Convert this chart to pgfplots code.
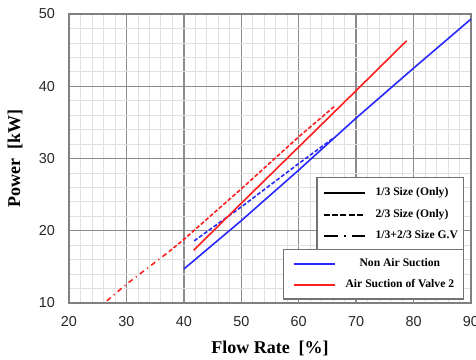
\documentclass[border=0pt]{standalone}
\usepackage{fontspec}
\setmainfont{Liberation Serif}
\setsansfont{Liberation Sans}
\usepackage{pgfplots}
\pgfplotsset{compat=1.18}
\definecolor{myblue}{RGB}{40,40,255}
\definecolor{myred}{RGB}{255,30,30}
\begin{document}
\begin{tikzpicture}
\pgfplotsset{
  common/.style={scale only axis, width=201pt, height=144.5pt,
    xmin=20,xmax=90,ymin=10,ymax=50},
}
\begin{axis}[common, name=a,
  xtick={20,30,...,90}, ytick={10,20,...,50},
  minor x tick num=4, minor y tick num=4,
  grid=both,
  major grid style={draw=black!45, line width=0.7pt},
  minor grid style={draw=black!12, line width=0.4pt},
  axis line style={draw=black!50, line width=0.7pt},
  major tick length=0pt, minor tick length=0pt,
  tick label style={font=\sffamily\fontsize{7.2}{8}\selectfont, text=black!85},
  /pgf/number format/assume math mode=true,
  xticklabel style={yshift=-3pt},
  yticklabel style={xshift=-3.5pt},
  xlabel={\textbf{Flow Rate\ \ [\%]}},
  ylabel={\textbf{Power\ \ [kW]}},
  label style={font=\fontsize{9}{11}\selectfont},
  xlabel style={at={(axis description cs:0.5,0)}, anchor=center, yshift=-22.5pt},
  ylabel style={at={([xshift=-27pt]axis description cs:0,0.5)}, anchor=center},
  legend image code/.code={\draw[#1,line width=1pt] (2pt,0pt) -- (22.5pt,0pt);},
  legend cell align=left,
  legend style={at={(0.9826,0.436)}, anchor=north east, draw=black!55, line width=0.7pt,
    fill=white, font=\bfseries\fontsize{5.8}{6.2}\selectfont, row sep=1.2pt, column sep=5pt,
    nodes={inner xsep=0pt},
    inner xsep=2.7pt, inner ysep=3pt},
]
% blue solid: non air suction, 1/3 size
\addplot[myblue, line width=0.8pt, forget plot] coordinates {(40,14.7) (50,21.4) (60,28.4) (70,35.6) (80,42.5) (90,49.3)};
% blue dashed: non air suction, 2/3 size
\addplot[myblue, line width=0.8pt, dash pattern=on 2pt off 1pt, forget plot] coordinates {(41.8,18.6) (50,23.3) (60,29.3) (66,32.8)};
% red solid: air suction, 1/3 size
\addplot[myred, line width=0.8pt, forget plot] coordinates {(41.7,17.3) (50,23.8) (60,31.6) (70,39.4) (78.8,46.3)};
% red dashed: air suction, 2/3 size
\addplot[myred, line width=0.8pt, dash pattern=on 2pt off 1pt, forget plot] coordinates {(37.4,17.1) (40,18.8) (50,25.8) (60,33.0) (66.2,37.2)};
% red dash-dot: 1/3+2/3 size G.V
\addplot[myred, line width=0.8pt, dash pattern=on 2.5pt off 2pt on 0.6pt off 2pt, forget plot] coordinates {(26.6,10.3) (30,12.6) (37.4,17.1)};
\addlegendimage{black}
\addlegendentry{1/3 Size (Only)}
\addlegendimage{black, dash pattern=on 3pt off 1.2pt}
\addlegendentry{2/3 Size (Only)}
\addlegendimage{black, dash pattern=on 7pt off 3pt on 1pt off 3pt}
\addlegendentry{1/3+2/3 Size G.V}
\end{axis}
\begin{axis}[common, hide axis,
  legend image code/.code={\draw[#1,line width=1pt] (0pt,0pt) -- (20.5pt,0pt);},
  legend cell align=center,
  legend style={at={(0.9826,0.1869)}, anchor=north east, draw=black!55, line width=0.7pt,
    fill=white, font=\bfseries\fontsize{5.8}{6.2}\selectfont, row sep=1.2pt, column sep=5pt,
    nodes={inner xsep=0pt},
    inner xsep=4.6pt, inner ysep=2.2pt},
]
\addlegendimage{myblue}
\addlegendentry{Non Air Suction}
\addlegendimage{myred}
\addlegendentry{Air Suction of Valve 2}
\end{axis}
\pgfresetboundingbox
\path (a.south west) ++(-34.5pt,-28pt) rectangle ++(238pt,179.5pt);
\end{tikzpicture}
\end{document}
